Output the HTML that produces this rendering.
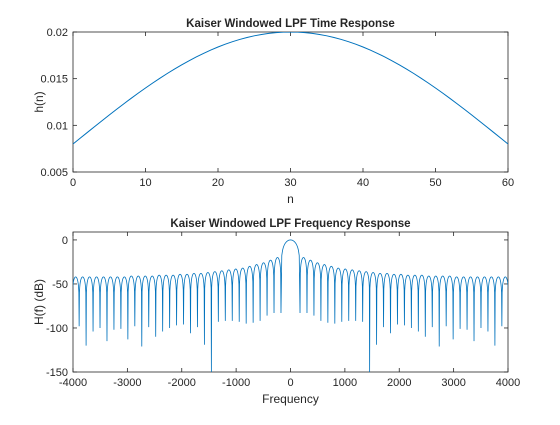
<!DOCTYPE html>
<html><head><meta charset="utf-8">
<style>
html,body{margin:0;padding:0;background:#fff;}
svg text{font-family:"Liberation Sans",Arial,sans-serif;fill:#262626;}
</style></head>
<body>
<svg id="fig" width="560" height="420" viewBox="0 0 560 420">
<defs>
<clipPath id="c1"><rect x="73" y="32" width="435" height="140"/></clipPath>
<clipPath id="c2"><rect x="73" y="232" width="435" height="140"/></clipPath>
</defs>
<g id="ax1"></g>
<g id="ax2"></g>
</svg>
<script>
// ---- Top chart data ----
const hHalf = [0.02000,0.019984,0.019934,0.019852,0.019738,0.019591,0.019413,0.019203,0.018963,0.018692,0.018392,0.018064,0.017708,0.017326,0.016918,0.016485,0.016030,0.015552,0.015053,0.014536,0.014000,0.013448,0.012881,0.012300,0.011708,0.011106,0.010495,0.009877,0.009254,0.008628,0.008000];
const topXTicks = [0,10,20,30,40,50,60];
const topYTicks = [0.005,0.01,0.015,0.02];
const topYLabels = ["0.005","0.01","0.015","0.02"];
// ---- Bottom chart data ----
const nullFreqs = [175,303,431,559,687,815,943,1071,1199,1327,1455,1583,1711,1839,1967,2095,2223,2351,2479,2607,2735,2863,2991,3119,3247,3375,3503,3631,3759,3887,4015];
const nullDepths = [-83,-83,-86,-92,-94,-95,-93,-92,-92,-93,-150,-119,-99,-106,-96,-97,-100,-104,-110,-99,-121,-98,-113,-101,-102,-115,-100,-104,-120,-98,-98];
const lobePeaks = [-20,-23,-26,-28,-30,-32,-33,-34,-35,-36,-37,-38,-38,-39,-39,-40,-40,-40,-41,-41,-41,-41,-42,-42,-42,-42,-42,-42,-42,-42];
const mainPeak = 0;
const botXTicks = [-4000,-3000,-2000,-1000,0,1000,2000,3000,4000];
const botYTicks = [0,-50,-100,-150];

const NS="http://www.w3.org/2000/svg";
function mk(parent,tag,attrs){const e=document.createElementNS(NS,tag);for(const k in attrs)e.setAttribute(k,attrs[k]);parent.appendChild(e);return e;}
const L=73,R=508;
function axes(g,top,bot,xmin,xmax,ymin,ymax,xt,xl,yt,yl,title,xlab,ylab){
  const sx=v=>L+(v-xmin)/(xmax-xmin)*(R-L);
  const sy=v=>bot-(v-ymin)/(ymax-ymin)*(bot-top);
  const box=mk(g,'rect',{x:L,y:top,width:R-L,height:bot-top,fill:'#fff',stroke:'#262626','stroke-width':0.8});
  
  
  xt.forEach((v,i)=>{
    const x=sx(v);
    mk(g,'line',{x1:x,y1:bot,x2:x,y2:bot-4,stroke:'#262626','stroke-width':0.8});
    mk(g,'line',{x1:x,y1:top,x2:x,y2:top+4,stroke:'#262626','stroke-width':0.8});
    const t=mk(g,'text',{x:x,y:bot+14,'font-size':11,'text-anchor':'middle'});
    t.textContent=xl[i];
    
    
  });
  yt.forEach((v,i)=>{
    const y=sy(v);
    mk(g,'line',{x1:L,y1:y,x2:L+4,y2:y,stroke:'#262626','stroke-width':0.8});
    mk(g,'line',{x1:R,y1:y,x2:R-4,y2:y,stroke:'#262626','stroke-width':0.8});
    const t=mk(g,'text',{x:L-5,y:y+4,'font-size':11,'text-anchor':'end'});
    t.textContent=yl[i];
    
    
  });
  const ti=mk(g,'text',{x:(L+R)/2,y:top-5,'font-size':11.5,'font-weight':'bold','text-anchor':'middle'});
  ti.textContent=title;
  
  
  const xa=mk(g,'text',{x:(L+R)/2,y:bot+31,'font-size':12,'text-anchor':'middle'});
  xa.textContent=xlab;
  
  
  const ya=mk(g,'text',{x:0,y:0,'font-size':12,'text-anchor':'middle',transform:`translate(43,${(top+bot)/2}) rotate(-90)`});
  ya.textContent=ylab;
  
  
  return {sx,sy};
}
// Top
const g1=document.getElementById('ax1');
const a1=axes(g1,32,172,0,60,0.005,0.02,topXTicks,topXTicks.map(String),topYTicks,topYLabels,'Kaiser Windowed LPF Time Response','n','h(n)');
const hVals=[];
for(let n=0;n<=60;n++){hVals.push(hHalf[Math.abs(n-30)]);}
const p1=hVals.map((v,n)=>`${a1.sx(n).toFixed(2)},${a1.sy(v).toFixed(2)}`).join(' ');
const l1=mk(g1,'polyline',{points:p1,fill:'none',stroke:'#0072BD','stroke-width':1,'clip-path':'url(#c1)'});


// Bottom
const g2=document.getElementById('ax2');
const a2=axes(g2,232,372,-4000,4000,-150,9,botXTicks,botXTicks.map(String),botYTicks,botYTicks.map(String),'Kaiser Windowed LPF Frequency Response','Frequency','H(f) (dB)');
function lobe(f0,f1,peak,d0,d1){
  const pts=[];const N=24;
  for(let i=0;i<=N;i++){
    const t=i/N;const s=Math.sin(Math.PI*t);
    let v=s>0?peak+20*Math.log10(s):-1e9;
    const d=t<0.5?d0:d1;
    if(v<d)v=d;
    pts.push([f0+(f1-f0)*t,v]);
  }
  return pts;
}
let pos=[];
pos=pos.concat(lobe(-nullFreqs[0],nullFreqs[0],mainPeak,nullDepths[0],nullDepths[0]));
for(let i=0;i<lobePeaks.length;i++){
  pos=pos.concat(lobe(nullFreqs[i],nullFreqs[i+1],lobePeaks[i],nullDepths[i],nullDepths[i+1]));
}
let neg=[];
for(let i=lobePeaks.length-1;i>=0;i--){
  neg=neg.concat(lobe(-nullFreqs[i+1],-nullFreqs[i],lobePeaks[i],nullDepths[i+1],nullDepths[i]));
}
const allPts=neg.concat(pos);
const p2=allPts.map(p=>`${a2.sx(p[0]).toFixed(2)},${a2.sy(p[1]).toFixed(2)}`).join(' ');
const l2=mk(g2,'polyline',{points:p2,fill:'none',stroke:'#0072BD','stroke-width':0.8,'clip-path':'url(#c2)'});


</script>
</body></html>
